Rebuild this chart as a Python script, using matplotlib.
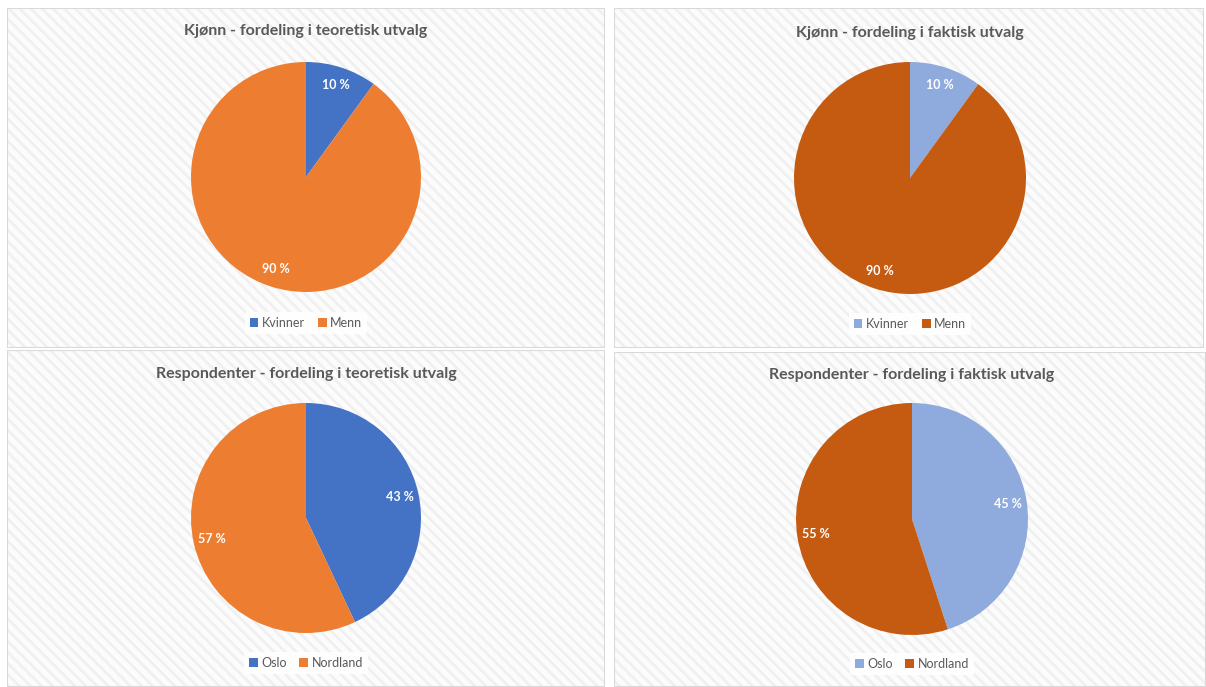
import matplotlib.pyplot as plt
from matplotlib.patches import Rectangle

# Chart data
gender_labels = ["Kvinner", "Menn"]
gender_theoretical = [10, 90]
gender_actual = [10, 90]
region_labels = ["Oslo", "Nordland"]
region_theoretical = [43, 57]
region_actual = [45, 55]

titles = [
    "Kjønn - fordeling i teoretisk utvalg",
    "Kjønn - fordeling i faktisk utvalg",
    "Respondenter - fordeling i teoretisk utvalg",
    "Respondenter - fordeling i faktisk utvalg",
]

dark_colors = ["#4472C4", "#ED7D31"]
light_colors = ["#8FAADC", "#C55A11"]

W, H = 1206, 687
plt.rcParams["font.family"] = ["Lato", "DejaVu Sans"]
plt.rcParams["hatch.linewidth"] = 2.0
plt.rcParams["hatch.color"] = "#f0f0f0"

fig = plt.figure(figsize=(W / 100, H / 100), dpi=100)


def px_axes(x0, y0, x1, y1):
    return fig.add_axes([x0 / W, 1 - y1 / H, (x1 - x0) / W, (y1 - y0) / H])


# panel boxes (pixels, top-left origin), pie centre/radius, title y, legend y
panels = [
    ((7, 8, 605, 348), (306, 177, 115), 31, 323),
    ((614, 8, 1204, 348), (910, 178, 116), 33, 324),
    ((7, 350, 605, 687), (306, 518, 115), 374, 663),
    ((614, 352, 1206, 687), (912, 519, 116), 375, 664),
]
values = [gender_theoretical, gender_actual, region_theoretical, region_actual]
labels = [gender_labels, gender_labels, region_labels, region_labels]
colors = [dark_colors, light_colors, dark_colors, light_colors]

for i, (box, (cx, cy, r), ty, ly) in enumerate(panels):
    bg = px_axes(*box)
    bg.set_xlim(0, 1)
    bg.set_ylim(0, 1)
    bg.axis("off")
    bg.add_patch(Rectangle((0, 0), 1, 1, facecolor="#fcfcfc", hatch="\\\\\\",
                           edgecolor="#f0f0f0", linewidth=0))
    bg.add_patch(Rectangle((0, 0), 1, 1, facecolor="none",
                           edgecolor="#d9d9d9", linewidth=1.5))

    ax = px_axes(cx - r, cy - r, cx + r, cy + r)
    wedges, _, autotexts = ax.pie(
        values[i],
        colors=colors[i],
        startangle=90,
        counterclock=False,
        autopct=lambda p: f"{p:.0f} %",
        pctdistance=0.84,
        radius=1.0,
        wedgeprops={"linewidth": 0},
        textprops={"color": "white", "fontsize": 9, "fontweight": "bold"},
    )
    ax.set_xlim(-1, 1)
    ax.set_ylim(-1, 1)
    ax.set_aspect("equal")

    fig.text(cx / W, 1 - ty / H, titles[i], ha="center", va="center",
             fontsize=11.5, fontweight="bold", color="#595959")

    leg = fig.legend(wedges, labels[i], loc="center",
                     bbox_to_anchor=(cx / W, 1 - ly / H), ncol=2,
                     frameon=True, fontsize=9, handlelength=0.7,
                     handleheight=0.7, handletextpad=0.3, columnspacing=1.0,
                     borderpad=0.4)
    leg.get_frame().set_facecolor("white")
    leg.get_frame().set_edgecolor("none")
    leg.get_frame().set_alpha(0.9)
    for t in leg.get_texts():
        t.set_color("#595959")

fig.savefig("out.png", dpi=100, facecolor="white")
